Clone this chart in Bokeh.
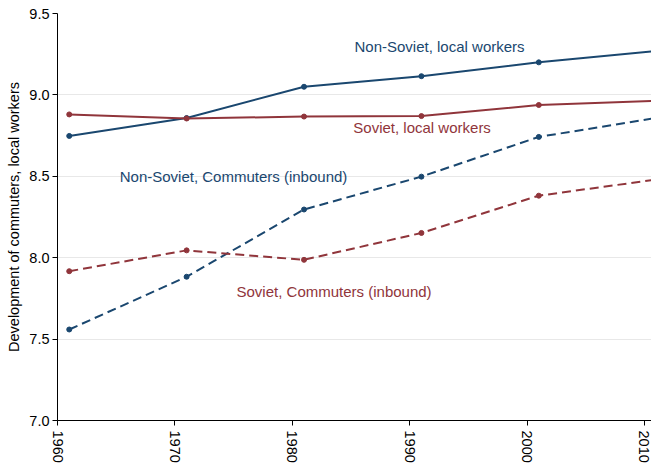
from bokeh.plotting import figure
from bokeh.models import Range1d, FixedTicker, PrintfTickFormatter, Label
from bokeh.embed import file_html
from bokeh.resources import INLINE

years = [1961, 1971, 1981, 1991, 2001, 2011]
nonsoviet_local = [8.748, 8.858, 9.050, 9.115, 9.200, 9.270]
soviet_local = [8.880, 8.855, 8.867, 8.870, 8.938, 8.963]
nonsoviet_comm = [7.559, 7.883, 8.296, 8.498, 8.742, 8.858]
soviet_comm = [7.917, 8.045, 7.987, 8.152, 8.381, 8.480]

x_ticks = [1960, 1970, 1980, 1990, 2000, 2010]
y_ticks = [7.0, 7.5, 8.0, 8.5, 9.0, 9.5]

NAVY = "#1a476f"
MAROON = "#90353b"
FONT = "Liberation Sans"

p = figure(width=651, height=465, output_backend="svg", toolbar_location=None,
           x_range=Range1d(1960, 2010.6), y_range=Range1d(7.0, 9.5),
           min_border_left=57, min_border_top=13, min_border_bottom=43, min_border_right=0)
p.outline_line_color = None
p.background_fill_color = "white"
p.border_fill_color = "white"

p.xgrid.grid_line_color = None
p.ygrid.grid_line_color = "#e8e8e8"
p.ygrid.grid_line_width = 1
p.ygrid.ticker = FixedTicker(ticks=y_ticks)

p.xaxis.ticker = FixedTicker(ticks=x_ticks)
p.yaxis.ticker = FixedTicker(ticks=y_ticks)
p.yaxis.formatter = PrintfTickFormatter(format="%.1f")
p.xaxis.major_label_orientation = "vertical"
for ax in (p.xaxis, p.yaxis):
    ax.axis_line_color = "black"
    ax.axis_line_width = 1
    ax.major_tick_line_color = "black"
    ax.major_tick_out = 5
    ax.major_tick_in = 0
    ax.minor_tick_line_color = None
    ax.major_label_text_font = FONT
    ax.major_label_text_font_size = "14.5px"
    ax.major_label_text_color = "black"
    ax.major_label_standoff = 3
p.xaxis.major_label_standoff = 5
p.yaxis.axis_label = "Development of commuters, local workers"
p.yaxis.axis_label_text_font = FONT
p.yaxis.axis_label_text_font_size = "14.5px"
p.yaxis.axis_label_text_font_style = "normal"
p.yaxis.axis_label_text_color = "black"
p.yaxis.axis_label_standoff = 4

series = [
    (nonsoviet_local, NAVY, "solid"),
    (soviet_local, MAROON, "solid"),
    (nonsoviet_comm, NAVY, "9 5"),
    (soviet_comm, MAROON, "9 5"),
]
for ys, c, dash in series:
    p.line(years, ys, line_color=c, line_width=2, line_dash=dash)
    p.scatter(years, ys, size=5, fill_color=c, line_color=c)

labels = [
    ("Non-Soviet, local workers", 1985.3, 9.298, NAVY),
    ("Soviet, local workers", 1985.2, 8.797, MAROON),
    ("Non-Soviet, Commuters (inbound)", 1965.3, 8.498, NAVY),
    ("Soviet, Commuters (inbound)", 1975.25, 7.795, MAROON),
]
for t, lx, ly, c in labels:
    p.add_layout(Label(x=lx, y=ly, text=t, text_color=c, text_font=FONT,
                       text_font_size="15px", text_baseline="middle", text_align="left"))

open("out.html", "w").write(file_html(p, INLINE))
